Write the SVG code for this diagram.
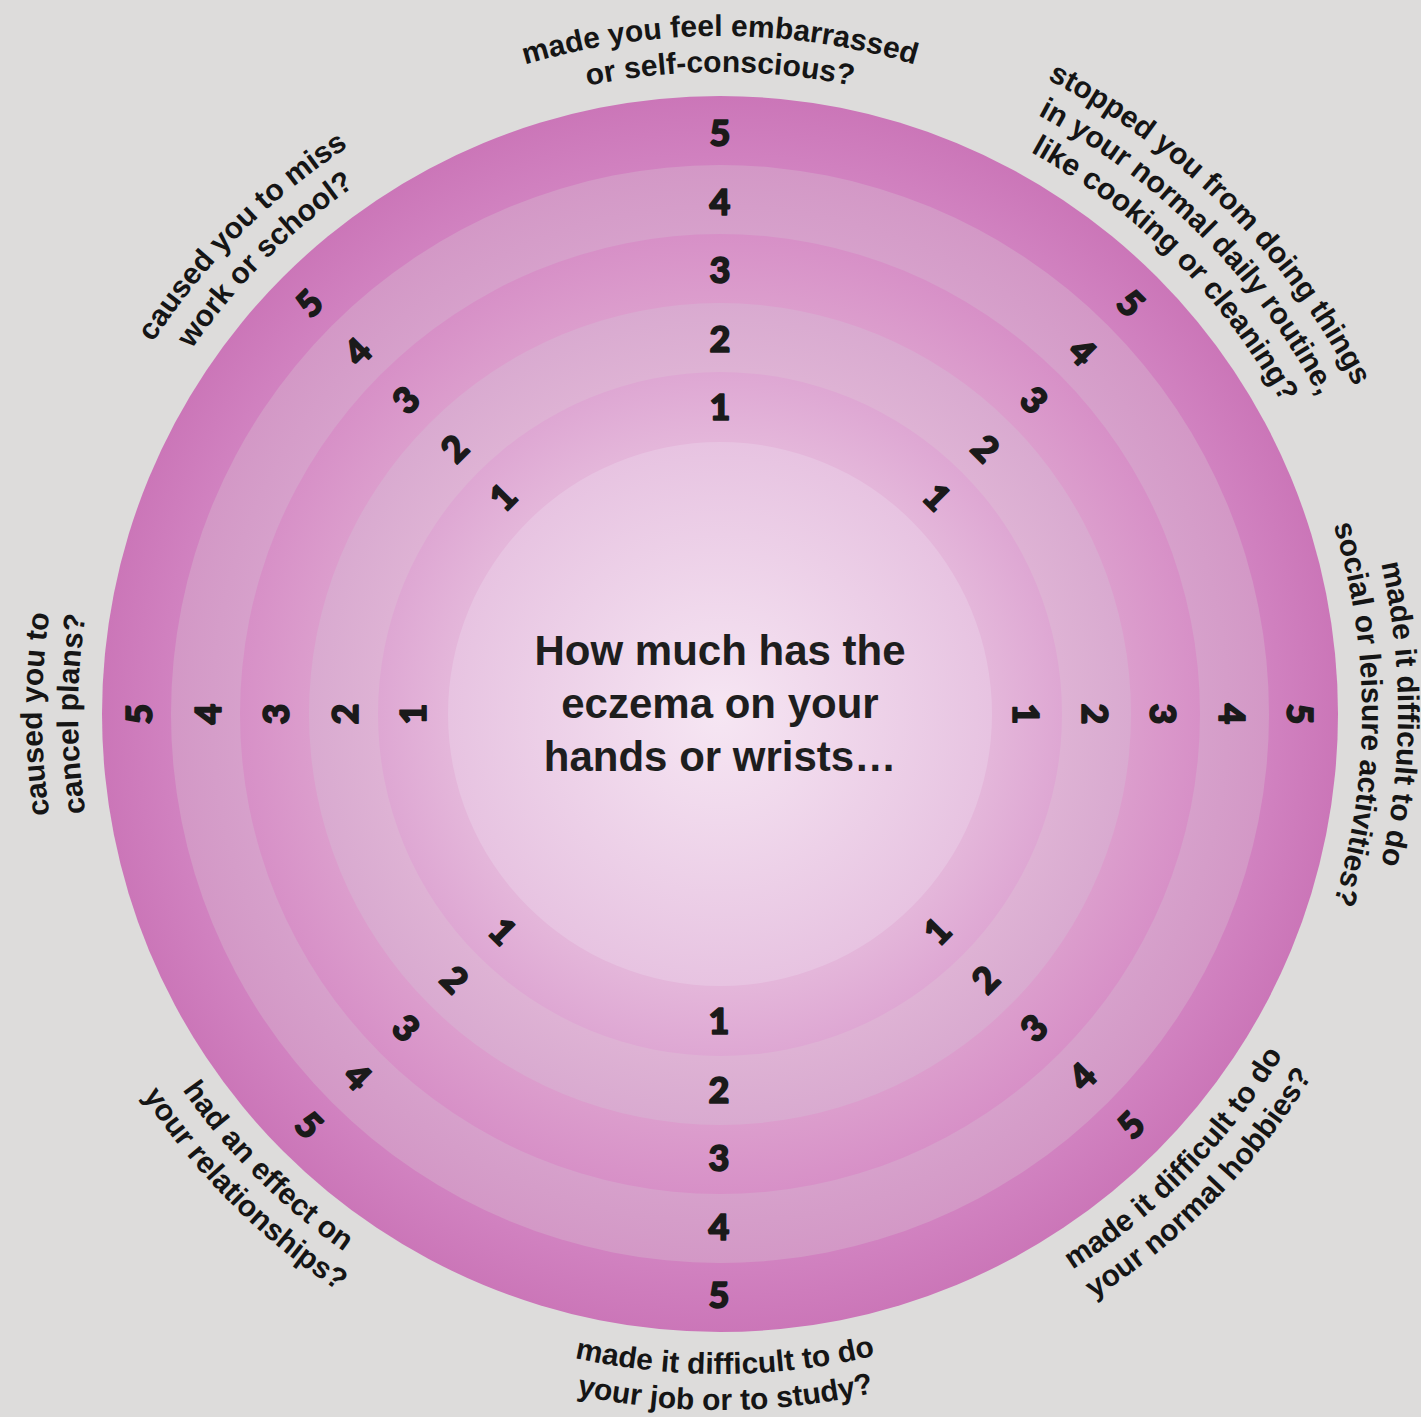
<svg xmlns="http://www.w3.org/2000/svg" width="1421" height="1417" viewBox="0 0 1421 1417">
<style>
.lbl{font-family:"Liberation Sans",Arial,sans-serif;font-weight:bold;font-size:30px;fill:#151515}
.ctr{font-family:"Liberation Sans",Arial,sans-serif;font-weight:bold;font-size:42px;fill:#1e1e1e;text-anchor:middle}
.num{font-family:Lato,"DejaVu Sans",sans-serif;font-weight:900;font-size:36px;fill:#1a1a1a;stroke:#1a1a1a;stroke-width:1.6px;stroke-linejoin:round;text-anchor:middle}
</style>
<defs>
<radialGradient id="g5"><stop offset="0.85" stop-color="#d386c3"/><stop offset="1" stop-color="#cb76b8"/></radialGradient>
<radialGradient id="g4"><stop offset="0.85" stop-color="#d7a2cc"/><stop offset="1" stop-color="#d398c6"/></radialGradient>
<radialGradient id="g3"><stop offset="0.85" stop-color="#dc9ecd"/><stop offset="1" stop-color="#d790c7"/></radialGradient>
<radialGradient id="g2"><stop offset="0.8" stop-color="#dfb4d5"/><stop offset="1" stop-color="#d9aad0"/></radialGradient>
<radialGradient id="g1"><stop offset="0.8" stop-color="#e4b6da"/><stop offset="1" stop-color="#dea7d3"/></radialGradient>
<radialGradient id="g0"><stop offset="0" stop-color="#f6e6f3"/><stop offset="1" stop-color="#e7c3e1"/></radialGradient>
<path id="pT1" d="M466,85.37 A678,678 0 0 1 974,85.37"/>
<path id="pT2" d="M479.5,118.75 A642,642 0 0 1 960.5,118.75"/>
<path id="pTR1" d="M998.98,56.76 A714,714 0 0 1 1377.24,435.02"/>
<path id="pTR2" d="M984.92,89.9 A678,678 0 0 1 1344.1,449.08"/>
<path id="pTR3" d="M970.85,123.04 A642,642 0 0 1 1310.96,463.15"/>
<path id="pR1" d="M1348.63,460 A678,678 0 0 1 1348.63,968"/>
<path id="pR2" d="M1315.25,473.5 A642,642 0 0 1 1315.25,954.5"/>
<path id="pL1" d="M91.37,968 A678,678 0 0 1 91.37,460"/>
<path id="pL2" d="M124.75,954.5 A642,642 0 0 1 124.75,473.5"/>
<path id="pTL1" d="M95.9,449.08 A678,678 0 0 1 455.08,89.9"/>
<path id="pTL2" d="M129.04,463.15 A642,642 0 0 1 469.15,123.04"/>
<path id="pB1" d="M472.76,1325.94 A660,660 0 0 0 967.24,1325.94"/>
<path id="pB2" d="M459.27,1359.32 A696,696 0 0 0 980.73,1359.32"/>
<path id="pBL1" d="M116.15,970.32 A656,656 0 0 0 463.68,1317.85"/>
<path id="pBL2" d="M83.01,984.39 A692,692 0 0 0 449.61,1350.99"/>
<path id="pBR1" d="M977.1,1319.69 A658,658 0 0 0 1325.69,971.1"/>
<path id="pBR2" d="M991.17,1352.83 A694,694 0 0 0 1358.83,985.17"/>
</defs>
<rect width="1421" height="1417" fill="#dddcdb"/>
<g id="rings">
<circle cx="720" cy="714" r="618" fill="url(#g5)"/>
<circle cx="720" cy="714" r="549" fill="url(#g4)"/>
<circle cx="720" cy="714" r="480" fill="url(#g3)"/>
<circle cx="720" cy="714" r="411" fill="url(#g2)"/>
<circle cx="720" cy="714" r="342" fill="url(#g1)"/>
<circle cx="720" cy="714" r="272" fill="url(#g0)"/>
</g>
<g id="center-question">
<text class="ctr" x="720" y="665">How much has the</text>
<text class="ctr" x="720" y="718">eczema on your</text>
<text class="ctr" x="720" y="771">hands or wrists…</text>
</g>
<g id="label-top" class="lbl" text-anchor="middle">
<text><textPath href="#pT1" startOffset="50%">made you feel embarrassed</textPath></text>
<text><textPath href="#pT2" startOffset="50%">or self-conscious?</textPath></text>
</g>
<g id="label-top-right" class="lbl" text-anchor="middle">
<text><textPath href="#pTR1" startOffset="50%">stopped you from doing things</textPath></text>
<text><textPath href="#pTR2" startOffset="50%">in your normal daily routine,</textPath></text>
<text><textPath href="#pTR3" startOffset="50%">like cooking or cleaning?</textPath></text>
</g>
<g id="label-right" class="lbl" text-anchor="middle">
<text><textPath href="#pR1" startOffset="50%">made it difficult to do</textPath></text>
<text><textPath href="#pR2" startOffset="50%">social or leisure activities?</textPath></text>
</g>
<g id="label-bottom-right" class="lbl" text-anchor="middle" transform="rotate(-0.6 720 714)">
<text><textPath href="#pBR1" startOffset="50%">made it difficult to do</textPath></text>
<text><textPath href="#pBR2" startOffset="50%">your normal hobbies?</textPath></text>
</g>
<g id="label-bottom" class="lbl" text-anchor="middle" transform="rotate(-0.45 720 714)">
<text><textPath href="#pB1" startOffset="50%">made it difficult to do</textPath></text>
<text><textPath href="#pB2" startOffset="50%">your job or to study?</textPath></text>
</g>
<g id="label-bottom-left" class="lbl" text-anchor="middle">
<text><textPath href="#pBL1" startOffset="50%">had an effect on</textPath></text>
<text><textPath href="#pBL2" startOffset="50%">your relationships?</textPath></text>
</g>
<g id="label-left" class="lbl" text-anchor="middle">
<text><textPath href="#pL1" startOffset="50%">caused you to</textPath></text>
<text><textPath href="#pL2" startOffset="50%">cancel plans?</textPath></text>
</g>
<g id="label-top-left" class="lbl" text-anchor="middle">
<text><textPath href="#pTL1" startOffset="50%">caused you to miss</textPath></text>
<text><textPath href="#pTL2" startOffset="50%">work or school?</textPath></text>
</g>
<g id="scale-top" class="num">
<text transform="translate(720,407)" y="13">1</text>
<text transform="translate(720,338.5)" y="13">2</text>
<text transform="translate(720,270)" y="13">3</text>
<text transform="translate(720,201.5)" y="13">4</text>
<text transform="translate(720,133)" y="13">5</text>
</g>
<g id="scale-top-right" class="num">
<text transform="translate(937.08,496.92) rotate(45)" y="13">1</text>
<text transform="translate(985.52,448.48) rotate(45)" y="13">2</text>
<text transform="translate(1033.96,400.04) rotate(45)" y="13">3</text>
<text transform="translate(1082.39,351.61) rotate(45)" y="13">4</text>
<text transform="translate(1130.83,303.17) rotate(45)" y="13">5</text>
</g>
<g id="scale-right" class="num">
<text transform="translate(1026,714) rotate(90)" y="13">1</text>
<text transform="translate(1094.5,714) rotate(90)" y="13">2</text>
<text transform="translate(1163,714) rotate(90)" y="13">3</text>
<text transform="translate(1231.5,714) rotate(90)" y="13">4</text>
<text transform="translate(1300,714) rotate(90)" y="13">5</text>
</g>
<g id="scale-bottom-right" class="num">
<text transform="translate(937.08,931.08) rotate(-45)" y="13">1</text>
<text transform="translate(985.52,979.52) rotate(-45)" y="13">2</text>
<text transform="translate(1033.96,1027.96) rotate(-45)" y="13">3</text>
<text transform="translate(1082.39,1076.39) rotate(-45)" y="13">4</text>
<text transform="translate(1130.83,1124.83) rotate(-45)" y="13">5</text>
</g>
<g id="scale-bottom" class="num">
<text transform="translate(719,1021)" y="13">1</text>
<text transform="translate(719,1089.5)" y="13">2</text>
<text transform="translate(719,1158)" y="13">3</text>
<text transform="translate(719,1226.5)" y="13">4</text>
<text transform="translate(719,1295)" y="13">5</text>
</g>
<g id="scale-bottom-left" class="num">
<text transform="translate(502.92,931.08) rotate(45)" y="13">1</text>
<text transform="translate(454.48,979.52) rotate(45)" y="13">2</text>
<text transform="translate(406.04,1027.96) rotate(45)" y="13">3</text>
<text transform="translate(357.61,1076.39) rotate(45)" y="13">4</text>
<text transform="translate(309.17,1124.83) rotate(45)" y="13">5</text>
</g>
<g id="scale-left" class="num">
<text transform="translate(413,714) rotate(-90)" y="13">1</text>
<text transform="translate(344.5,714) rotate(-90)" y="13">2</text>
<text transform="translate(276,714) rotate(-90)" y="13">3</text>
<text transform="translate(207.5,714) rotate(-90)" y="13">4</text>
<text transform="translate(139,714) rotate(-90)" y="13">5</text>
</g>
<g id="scale-top-left" class="num">
<text transform="translate(502.92,496.92) rotate(-45)" y="13">1</text>
<text transform="translate(454.48,448.48) rotate(-45)" y="13">2</text>
<text transform="translate(406.04,400.04) rotate(-45)" y="13">3</text>
<text transform="translate(357.61,351.61) rotate(-45)" y="13">4</text>
<text transform="translate(309.17,303.17) rotate(-45)" y="13">5</text>
</g>
</svg>
